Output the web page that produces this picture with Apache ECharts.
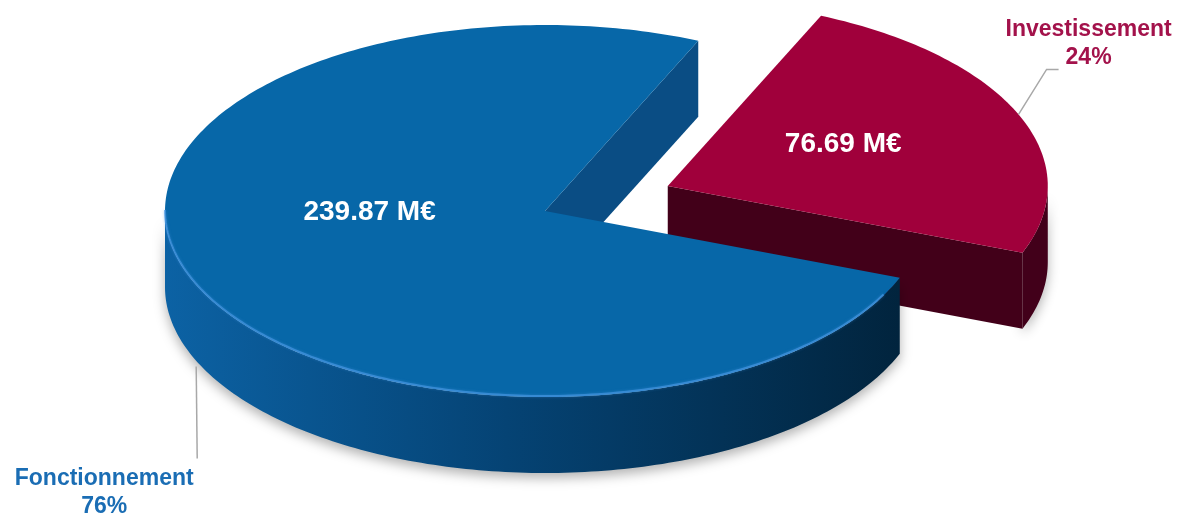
<!DOCTYPE html>
<html>
<head>
<meta charset="utf-8">
<script src="https://cdn.jsdelivr.net/npm/echarts@6/dist/echarts.min.js"></script>
<style>
html, body { margin: 0; padding: 0; background: #fff; }
#chartmain_pie { width: 1181px; height: 514px; }
</style>
</head>
<body>
<div id="chartmain_pie"></div>
<script>
// données
var categories = ['Fonctionnement', 'Investissement'];
var amounts = [239.87, 76.69];
var unit = ' M€';

// mise en forme du camembert 3D
var topColors = ['#0767a8', '#a0003b'];
var faceColors = ['#0a4d84', '#420019'];
var labelColors = ['#1a6db4', '#a3124b'];
var explode = [0, 0.35];

var pie = echarts.init(document.getElementById('chartmain_pie'));

var cx = 545, cy = 211, rx = 380, ry = 186, depth = 76;
var startAngle = 21;
var font = 'bold 23px "Liberation Sans", Arial, sans-serif';

var total = amounts.reduce(function (a, b) { return a + b; }, 0);
var slices = [];
var acc = startAngle;
amounts.forEach(function (v) {
    var span = v / total * 360;
    slices.push({ a0: acc, a1: acc + span });
    acc += span;
});

function rad(a) { return a * Math.PI / 180; }
function rim(ox, oy, a, dy) {
    return [ox + rx * Math.cos(rad(a)), oy + ry * Math.sin(rad(a)) + (dy || 0)];
}
function arc(ox, oy, a0, a1, dy) {
    var pts = [];
    var n = Math.max(2, Math.ceil(Math.abs(a1 - a0)));
    for (var k = 0; k <= n; k++) {
        pts.push(rim(ox, oy, a0 + (a1 - a0) * k / n, dy));
    }
    return pts;
}

function renderItem(params, api) {
    var i = params.dataIndex;
    var s = slices[i];
    var mid = (s.a0 + s.a1) / 2;
    var ox = cx + explode[i] * rx * Math.cos(rad(mid));
    var oy = cy + explode[i] * ry * Math.sin(rad(mid));
    var zb = i === 0 ? 20 : 0;
    var children = [];

    // parois extérieures visibles (moitié avant)
    var wallFill = i === 0
        ? new echarts.graphic.LinearGradient(cx - rx, 0, cx + rx, 0, [
            { offset: 0, color: '#0c62a4' },
            { offset: 0.45, color: '#054374' },
            { offset: 1, color: '#01223a' }
        ], true)
        : '#42001a';
    var fronts = [];
    for (var k = -1; k <= 1; k++) {
        var lo = Math.max(s.a0, k * 360), hi = Math.min(s.a1, k * 360 + 180);
        if (hi > lo) fronts.push([lo, hi]);
    }
    fronts.forEach(function (r) {
        var pts = arc(ox, oy, r[0], r[1], 0).concat(arc(ox, oy, r[1], r[0], depth));
        children.push({
            type: 'polygon', z2: zb + 1,
            shape: { points: pts },
            style: { fill: wallFill, shadowColor: 'rgba(0,0,0,0.3)', shadowBlur: 12, shadowOffsetY: 5 }
        });
    });

    // faces de coupe
    [[s.a0, Math.cos(rad(s.a0)) < 0], [s.a1, Math.cos(rad(s.a1)) > 0]].forEach(function (f) {
        if (!f[1]) return;
        var p = rim(ox, oy, f[0], 0);
        children.push({
            type: 'polygon', z2: zb + 1,
            shape: { points: [[ox, oy], p, [p[0], p[1] + depth], [ox, oy + depth]] },
            style: { fill: faceColors[i] }
        });
    });

    // dessus
    children.push({
        type: 'polygon', z2: zb + 2,
        shape: { points: [[ox, oy]].concat(arc(ox, oy, s.a0, s.a1, 0)) },
        style: { fill: topColors[i] }
    });
    if (i === 0) {
        fronts.forEach(function (r) {
            children.push({
                type: 'polyline', z2: zb + 3,
                shape: { points: arc(ox, oy, r[0] + 6, r[1], -1) },
                style: { stroke: 'rgba(70,150,225,0.7)', lineWidth: 2, fill: null, shadowColor: 'rgba(70,150,225,0.6)', shadowBlur: 3 }
            });
        });
    }

    // étiquette intérieure
    var v = api.value(0);
    children.push({
        type: 'text', z2: zb + 4,
        style: {
            text: v.toFixed(2) + unit,
            x: ox + rx * 0.5 * Math.cos(rad(mid)),
            y: oy + ry * 0.3 * Math.sin(rad(mid)) - 20,
            fill: '#fff',
            font: 'bold 28px "Liberation Sans", Arial, sans-serif',
            textAlign: 'center', textVerticalAlign: 'middle'
        }
    });

    // étiquette extérieure + trait
    var front = Math.sin(rad(mid)) > 0;
    var a = rim(ox, oy, mid, front ? depth : 0);
    var pct = Math.round(v / total * 100) + '%';
    var line, tx, ty, va;
    if (Math.cos(rad(mid)) < 0) {
        line = [[a[0] + 2, a[1] + 8], [a[0] + 3, a[1] + 100]];
        tx = a[0] - 90; ty = a[1] + 106; va = 'top';
    } else {
        line = [a, [a[0] + 28, a[1] - 45], [a[0] + 40, a[1] - 45]];
        tx = a[0] + 70; ty = a[1] - 43; va = 'bottom';
    }
    children.push({
        type: 'polyline', z2: zb + 4,
        shape: { points: line },
        style: { stroke: '#a8a8a8', lineWidth: 1.5, fill: null }
    });
    children.push({
        type: 'text', z2: zb + 4,
        style: {
            text: categories[i] + '\n' + pct,
            x: tx, y: ty,
            fill: labelColors[i],
            font: font, lineHeight: 28,
            textAlign: 'center', textVerticalAlign: va
        }
    });

    return { type: 'group', children: children };
}

var option = {
    animation: false,
    series: [{
        type: 'custom',
        coordinateSystem: 'none',
        renderItem: renderItem,
        data: amounts.map(function (v, i) { return { value: [v], name: categories[i] }; })
    }]
};
pie.setOption(option);
</script>
</body>
</html>
